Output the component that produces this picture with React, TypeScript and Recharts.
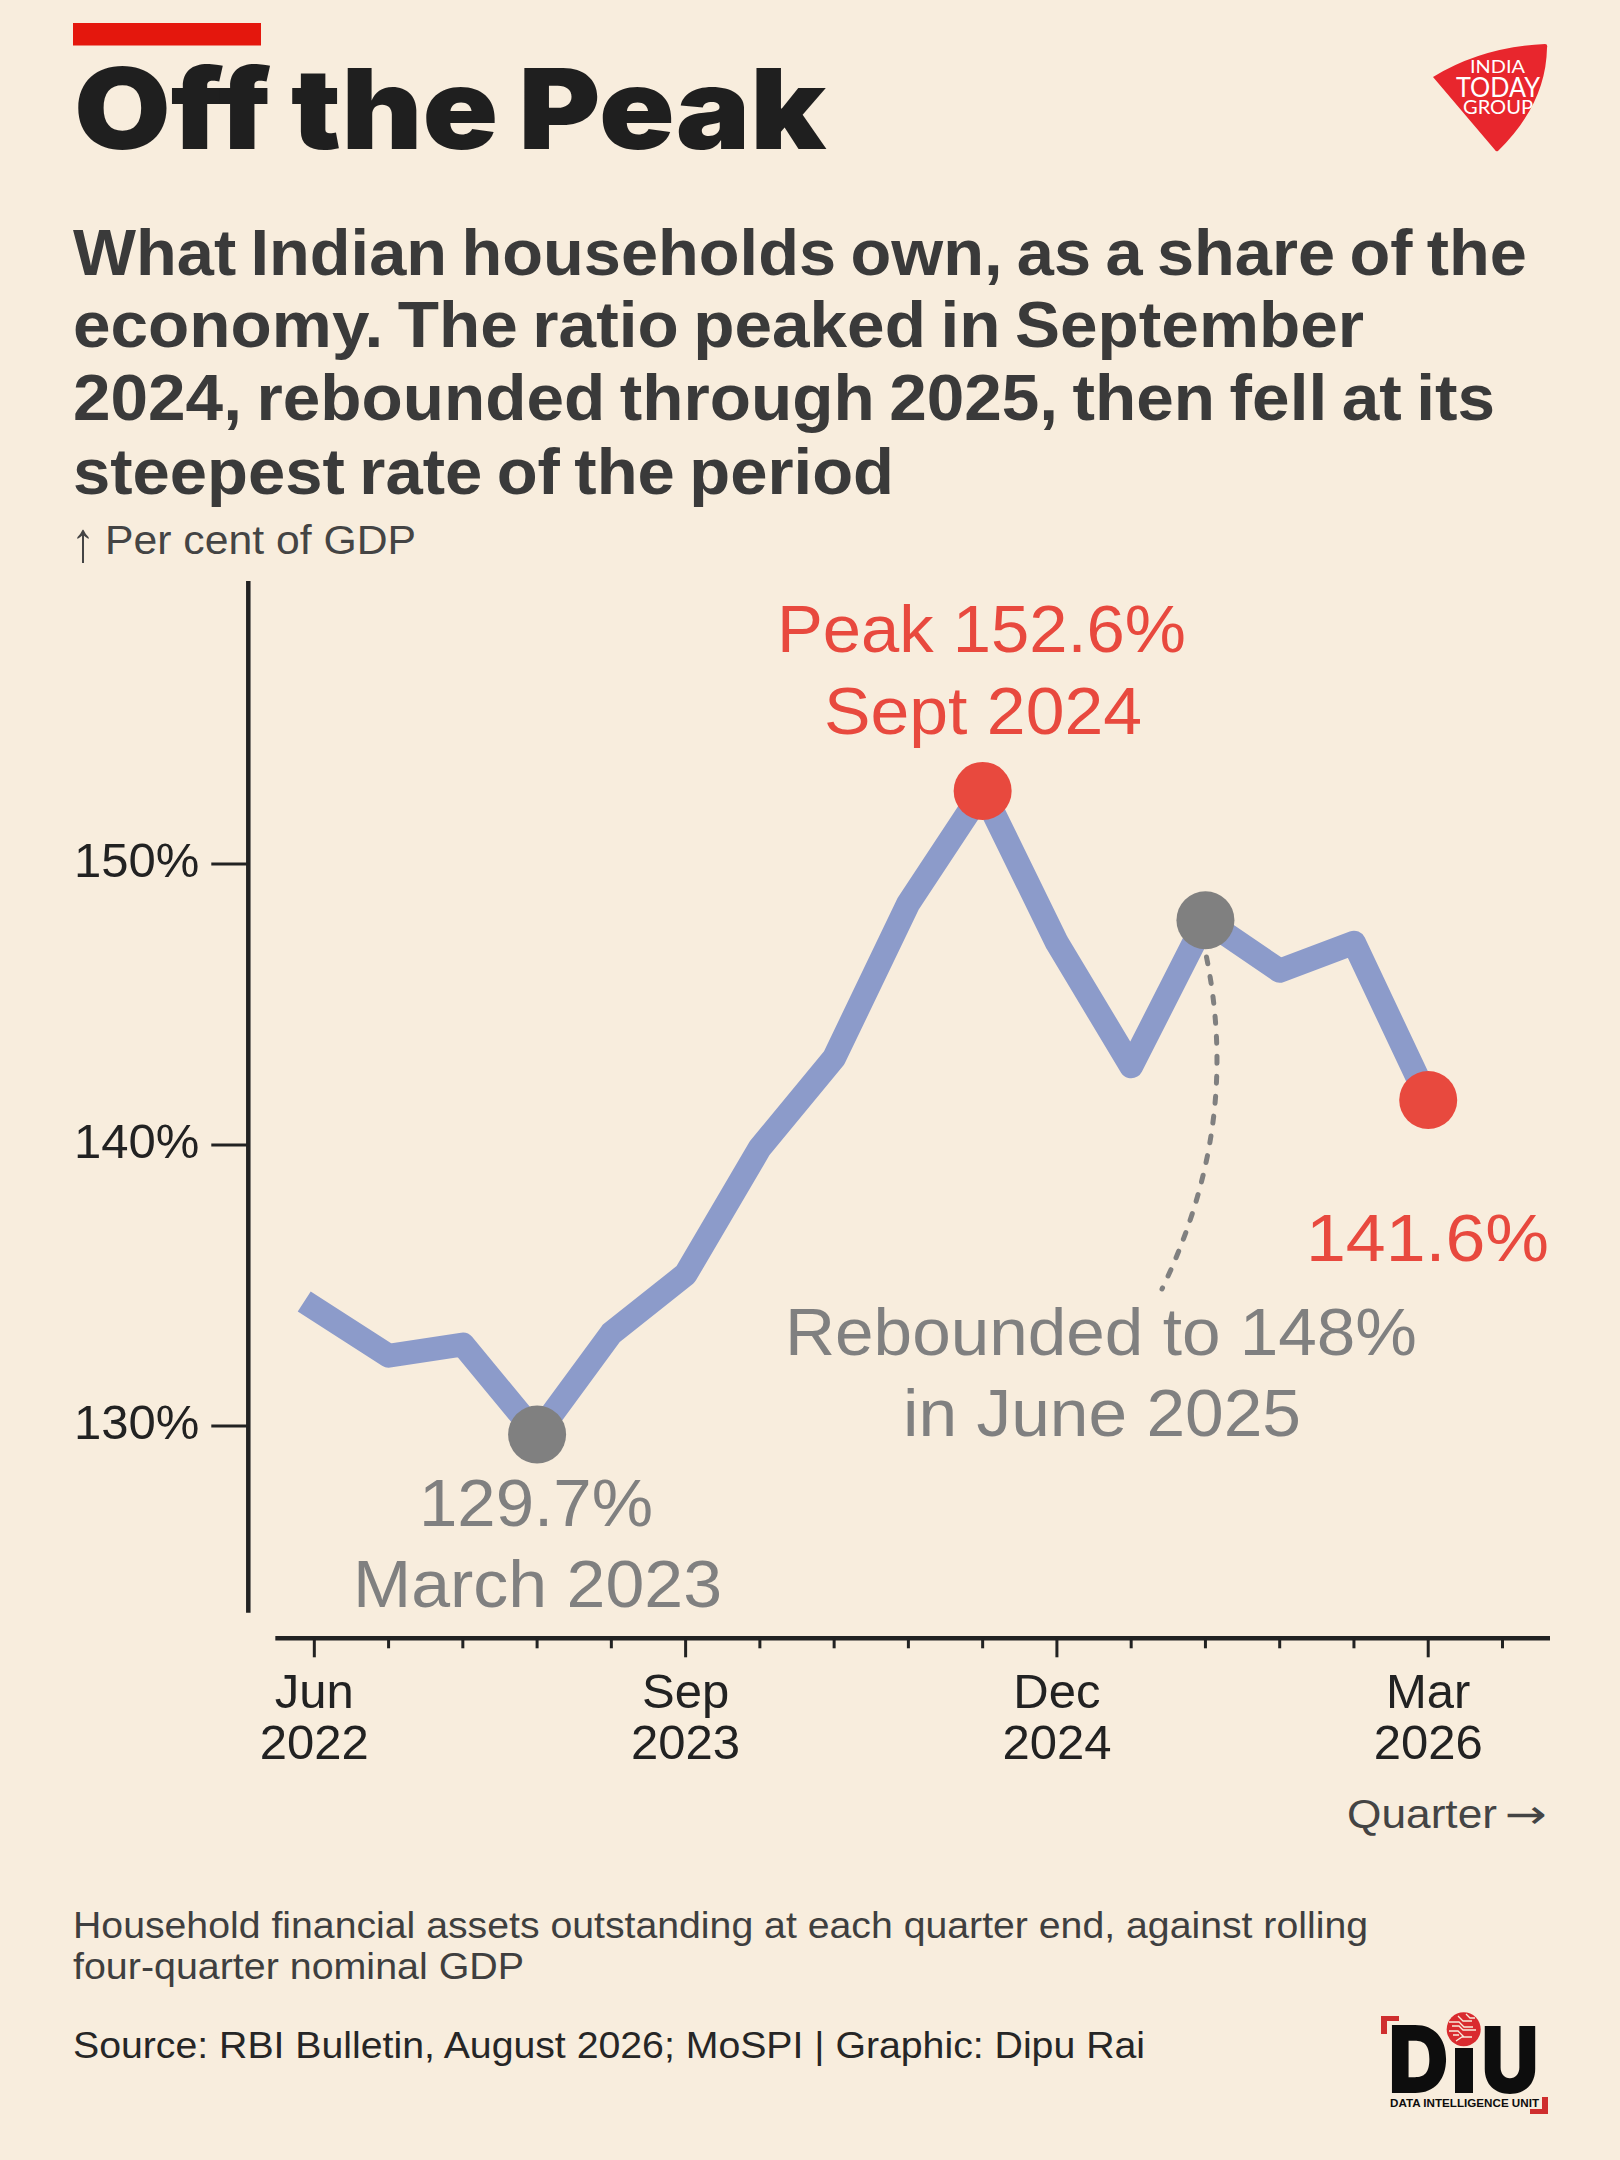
import React from 'react';
import { LineChart, Line, XAxis, YAxis, ReferenceLine } from 'recharts';

const quarterNames = [
  'Jun 2022', 'Sep 2022', 'Dec 2022', 'Mar 2023', 'Jun 2023', 'Sep 2023', 'Dec 2023', 'Mar 2024',
  'Jun 2024', 'Sep 2024', 'Dec 2024', 'Mar 2025', 'Jun 2025', 'Sep 2025', 'Dec 2025', 'Mar 2026',
];
const shareOfGdp = [134.2, 132.5, 132.9, 129.7, 133.3, 135.4, 139.9, 143.1, 148.6, 152.6, 147.2, 142.8, 148, 146.2, 147.2, 141.6];
const redPoints = [9, 15];
const greyPoints = [3, 12];

const xTicks = [0, 1, 2, 3, 4, 5, 6, 7, 8, 9, 10, 11, 12, 13, 14, 15, 16];
const labelledTicks = [0, 5, 10, 15];
const tickMonths = ['Jun', 'Sep', 'Dec', 'Mar'];
const tickYears = ['2022', '2023', '2024', '2026'];
const yTicks = [130, 140, 150];

const rows = shareOfGdp.map((share, i) => ({ q: i, quarter: quarterNames[i], share }));

const INK = '#222222';
const RED = '#e8493e';
const GREY = '#808080';
const SANS = '"Liberation Sans", Arial, sans-serif';

const X_MIN = -0.889;
const X_MAX = 16.64;
const Y_MIN = 122.445;
const Y_MAX = 160.07;

function XTick({ x, y, payload }: any) {
  const at = labelledTicks.indexOf(payload.value);
  const major = at >= 0;
  return (
    <g>
      <line x1={x} x2={x} y1={y} y2={y + (major ? 19 : 10)} stroke={INK} strokeWidth={3} />
      {major && (
        <text textAnchor="middle" fontFamily={SANS} fontSize={49} fill={INK}>
          <tspan x={x} y={y + 69.5}>{tickMonths[at]}</tspan>
          <tspan x={x} y={y + 121}>{tickYears[at]}</tspan>
        </text>
      )}
    </g>
  );
}

function YTick({ x, y, payload }: any) {
  return (
    <g>
      <line x1={x - 37} x2={x} y1={y} y2={y} stroke={INK} strokeWidth={3} />
      <text x={x - 49} y={y + 13} textAnchor="end" fontFamily={SANS} fontSize={49} fill={INK}>
        {payload.value}%
      </text>
    </g>
  );
}

function PointDot({ cx, cy, index }: any) {
  const color = redPoints.includes(index) ? RED : greyPoints.includes(index) ? GREY : null;
  if (!color) return <g key={index} />;
  return <circle key={index} cx={cx} cy={cy} r={29} fill={color} />;
}

// fixed-width text, the reference font is not installed so widths are forced
function T({ x, y, w, size, fill = INK, weight = 400, family = SANS, wordGap = 0, children }: any) {
  return (
    <text x={x} y={y} textLength={w} lengthAdjust="spacingAndGlyphs" fontFamily={family} fontSize={size} fontWeight={weight} fill={fill} wordSpacing={wordGap}>
      {children}
    </text>
  );
}

function Headline() {
  return (
    <>
      <rect x={73} y={23} width={188} height={22.5} fill="#e4170d" />
      <T x={74} y={148.5} w={752} size={112} weight={900} fill="#1f1f1f" family="Inter, sans-serif" wordGap={-4}>Off the Peak</T>
      <T x={73} y={275} w={1454} size={64} weight={700} fill="#3a3a3a" wordGap={-4}>What Indian households own, as a share of the</T>
      <T x={73} y={346.5} w={1291} size={64} weight={700} fill="#3a3a3a" wordGap={-4}>economy. The ratio peaked in September</T>
      <T x={73} y={420} w={1422} size={64} weight={700} fill="#3a3a3a" wordGap={-4}>2024, rebounded through 2025, then fell at its</T>
      <T x={73} y={493.5} w={821} size={64} weight={700} fill="#3a3a3a" wordGap={-4}>steepest rate of the period</T>
      <T x={71} y={561} w={24} size={56} fill="#444444">↑</T>
      <T x={105} y={554} w={311} size={40} fill="#444444">Per cent of GDP</T>
      <T x={1347} y={1828} w={150} size={40} fill="#444444">Quarter</T>
      <T x={1505} y={1828} w={42} size={40} fill="#444444" family='"DejaVu Sans", sans-serif'>→</T>
    </>
  );
}

function Annotations() {
  return (
    <>
      <T x={777} y={652} w={409} size={66} fill={RED}>Peak 152.6%</T>
      <T x={824} y={733.5} w={318} size={66} fill={RED}>Sept 2024</T>
      <T x={1306} y={1261} w={243} size={66} fill={RED}>141.6%</T>
      <T x={419} y={1526} w={234} size={66} fill={GREY}>129.7%</T>
      <T x={353} y={1607} w={369} size={66} fill={GREY}>March 2023</T>
      <T x={785} y={1355} w={632} size={66} fill={GREY}>Rebounded to 148%</T>
      <T x={903} y={1436} w={398} size={66} fill={GREY}>in June 2025</T>
      <path d="M1206.5 957 C1225 1050 1224 1160 1162 1289" fill="none" stroke={GREY} strokeWidth={5} strokeLinecap="round" strokeDasharray="7 13" />
    </>
  );
}

function Footer() {
  return (
    <>
      <T x={73} y={1937.5} w={1295} size={37} fill="#3f3f3f">Household financial assets outstanding at each quarter end, against rolling</T>
      <T x={73} y={1979} w={451} size={37} fill="#3f3f3f">four-quarter nominal GDP</T>
      <T x={73} y={2057.5} w={1072} size={37} fill="#262626">Source: RBI Bulletin, August 2026; MoSPI | Graphic: Dipu Rai</T>
    </>
  );
}

function Logos() {
  return (
    <>
      <path d="M1433 77 Q1482 47 1545 44 Q1548 44 1547 48 Q1546 104 1498 151 Q1496 152 1495 150 Z" fill="#e8262d" />
      <T x={1470} y={73} w={55} size={17} fill="#ffffff" family="Lato, sans-serif">INDIA</T>
      <T x={1456} y={97} w={84} size={27} fill="#ffffff" family="Lato, sans-serif">TODAY</T>
      <T x={1463} y={114} w={70} size={19} fill="#ffffff" family="Lato, sans-serif">GROUP</T>

      <g fill="#cf2e2e">
        <rect x={1381} y={2016} width={18} height={5} />
        <rect x={1381} y={2016} width={6} height={18} />
        <rect x={1530} y={2109} width={18} height={5} />
        <rect x={1542} y={2097} width={6} height={17} />
      </g>
      <T x={1388} y={2093} w={61} size={94} weight={900} fill="#0d0d0d" family="Inter, sans-serif">D</T>
      <rect x={1455} y={2048} width={18} height={45} fill="#0d0d0d" />
      <T x={1481} y={2093} w={58} size={92} weight={900} fill="#0d0d0d" family="Inter, sans-serif">U</T>
      <circle cx={1463.7} cy={2029.3} r={18.5} fill="#f8eddd" />
      <circle cx={1463.7} cy={2029.3} r={17} fill="#d92b2f" />
      <path d="M1449 2022 h10 l5 5 h9 M1449 2031 h9 l6 6 h8 M1456 2041 l6 -4 h9 M1458 2016 l5 5 h9 M1452 2026 h7 l4 4 h13 M1459 2035 h-6 M1466 2014 l4 4 h5" fill="none" stroke="#f8eddd" strokeWidth={1.3} />
      <T x={1390} y={2106.5} w={149} size={10.5} weight={700} fill="#0d0d0d">DATA INTELLIGENCE UNIT</T>
    </>
  );
}

export default function App() {
  return (
    <div style={{ position: 'absolute', left: 0, top: 0, width: 1620, height: 2160, background: '#f8eddd', overflow: 'hidden' }}>
      <div style={{ position: 'absolute', left: 0, top: 0 }}>
        <LineChart
          width={1620}
          height={2160}
          data={rows}
          margin={{ top: 581, right: 70, bottom: 371.7, left: 0 }}
        >
          <XAxis
            dataKey="q"
            type="number"
            domain={[X_MIN, X_MAX]}
            ticks={xTicks}
            interval={0}
            height={150}
            axisLine={false}
            tickLine={false}
            tickSize={0}
            tickMargin={0}
            tick={<XTick />}
          />
          <YAxis
            type="number"
            domain={[Y_MIN, Y_MAX]}
            ticks={yTicks}
            interval={0}
            width={248.3}
            axisLine={false}
            tickLine={false}
            tickSize={0}
            tickMargin={0}
            tick={<YTick />}
          />
          <ReferenceLine
            segment={[{ x: X_MIN, y: 123.35 }, { x: X_MIN, y: Y_MAX }]}
            stroke={INK}
            strokeWidth={4.5}
            ifOverflow="visible"
          />
          <ReferenceLine
            segment={[{ x: -0.525, y: Y_MIN }, { x: X_MAX, y: Y_MIN }]}
            stroke={INK}
            strokeWidth={4.5}
            ifOverflow="visible"
          />
          <Line
            dataKey="share"
            stroke="#8c9bca"
            strokeWidth={24}
            strokeLinecap="square"
            strokeLinejoin="round"
            dot={PointDot}
            activeDot={false}
            isAnimationActive={false}
          />
        </LineChart>
      </div>
      <svg width={1620} height={2160} style={{ position: 'absolute', left: 0, top: 0, pointerEvents: 'none' }}>
        <Headline />
        <Annotations />
        <Footer />
        <Logos />
      </svg>
    </div>
  );
}
